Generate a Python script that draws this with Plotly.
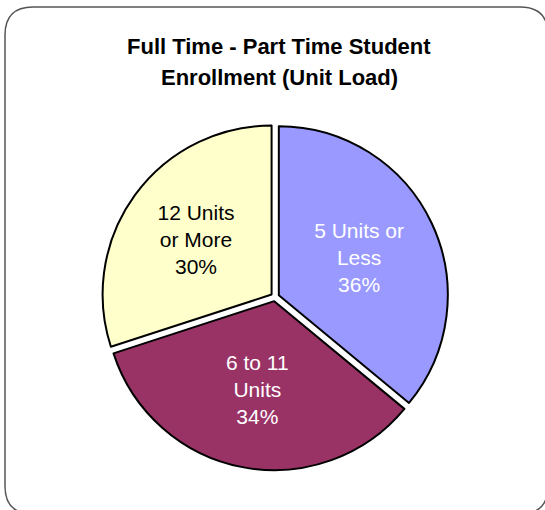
import plotly.graph_objects as go

# Data
categories = ["5 Units or<br>Less", "6 to 11<br>Units", "12 Units<br>or More"]
values = [36, 34, 30]
colors = ["#9999FF", "#993366", "#FFFFCC"]
text_colors = ["white", "white", "black"]
title_lines = ["Full Time - Part Time Student", "Enrollment (Unit Load)"]

W, H = 545, 510

def px(x):
    return x / W

def py(y):
    return 1 - y / H

cx, cy, half = 275, 297, 173.2

fig = go.Figure()
fig.add_trace(go.Pie(
    labels=categories,
    values=values,
    sort=False,
    direction="clockwise",
    rotation=0,
    pull=[0.025, 0.025, 0.025],
    marker=dict(colors=colors, line=dict(color="black", width=2)),
    texttemplate="%{label}<br>%{percent}",
    textposition="inside",
    insidetextorientation="horizontal",
    insidetextfont=dict(family="Liberation Sans, Arial", size=21, color=text_colors),
    hoverinfo="label+percent",
    showlegend=False,
    domain=dict(x=[px(cx - half), px(cx + half)], y=[py(cy + half), py(cy - half)]),
))

# rounded border
l, t, r, b, rad = 5, 7, 548, 514, 28
path = (
    f"M {px(l)},{py(t + rad)} "
    f"Q {px(l)},{py(t)} {px(l + rad)},{py(t)} "
    f"L {px(r - rad)},{py(t)} "
    f"Q {px(r)},{py(t)} {px(r)},{py(t + rad)} "
    f"L {px(r)},{py(b - rad)} "
    f"Q {px(r)},{py(b)} {px(r - rad)},{py(b)} "
    f"L {px(l + rad)},{py(b)} "
    f"Q {px(l)},{py(b)} {px(l)},{py(b - rad)} Z"
)
fig.add_shape(type="path", xref="paper", yref="paper", path=path,
              line=dict(color="#555555", width=1.5), layer="below")

for line, yc in zip(title_lines, [46, 77]):
    fig.add_annotation(
        text=f"<b>{line}</b>", x=px(279.5), y=py(yc), xref="paper", yref="paper",
        xanchor="center", yanchor="middle", showarrow=False,
        font=dict(family="Liberation Sans, Arial", size=22, color="black"),
    )

fig.update_layout(
    width=W, height=H,
    margin=dict(l=0, r=0, t=0, b=0),
    paper_bgcolor="white",
    plot_bgcolor="white",
)

fig.write_html("out.html", config={"displayModeBar": False},
               post_script="document.body.style.margin='0';")
